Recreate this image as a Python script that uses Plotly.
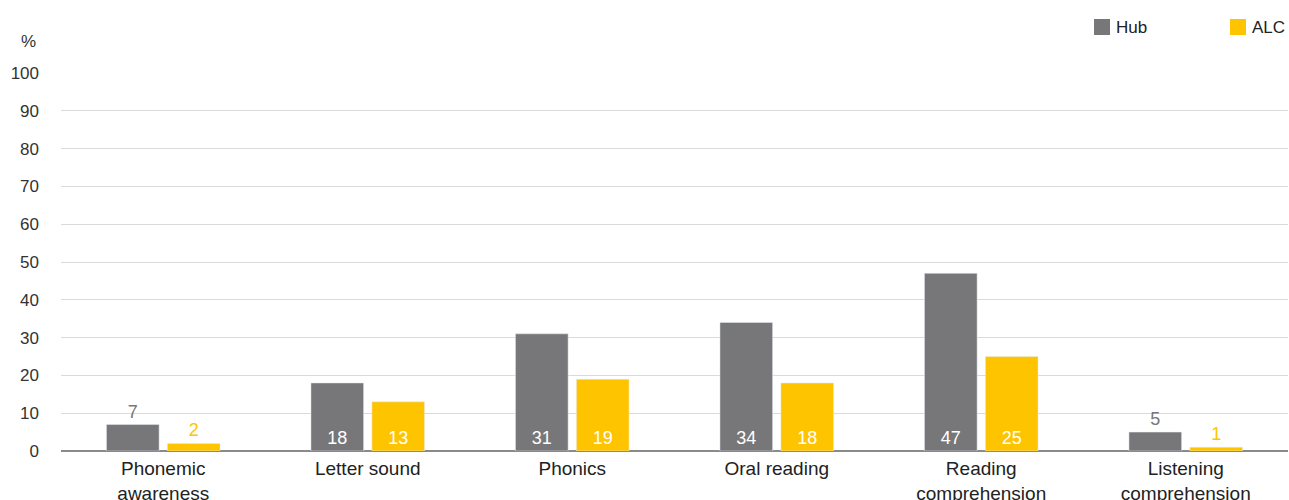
import plotly.graph_objects as go

categories = ["Phonemic<br>awareness", "Letter sound", "Phonics", "Oral reading",
              "Reading<br>comprehension", "Listening<br>comprehension"]
hub_values = [7, 18, 31, 34, 47, 5]
alc_values = [2, 13, 19, 18, 25, 1]
y_ticks = [0, 10, 20, 30, 40, 50, 60, 70, 80, 90, 100]

HUB_COLOR = "#77777a"
ALC_COLOR = "#ffc400"
FONT = "Liberation Sans"

W, H = 1289, 500
M_L, M_R, M_T, M_B = 61, 1, 73, 49
PLOT_W = W - M_L - M_R
PLOT_H = H - M_T - M_B


def px_x(px):
    return (px - M_L) / PLOT_W


def px_y(py):
    return (H - M_B - py) / PLOT_H


def label_style(values, color):
    # small bars get their label above the bar, in the bar colour
    pos = ["outside" if v < 10 else "inside" for v in values]
    cols = [color if v < 10 else "white" for v in values]
    return pos, cols


series = [("Hub", hub_values, HUB_COLOR), ("ALC", alc_values, ALC_COLOR)]

fig = go.Figure()
for name, vals, color in series:
    pos, cols = label_style(vals, color)
    fig.add_trace(go.Bar(
        name=name, x=categories, y=vals, marker_color=color,
        text=[str(v) for v in vals], textposition=pos,
        insidetextanchor="start", constraintext="none",
        textfont=dict(color=cols, size=18, family=FONT),
        cliponaxis=False, showlegend=False,
    ))

# legend in the top-right corner: square swatch + series name
legend_left = [1094, 1230]
for (name, _, color), left in zip(series, legend_left):
    fig.add_shape(type="rect", xref="paper", yref="paper",
                  x0=px_x(left), x1=px_x(left + 16), y0=px_y(35), y1=px_y(19),
                  fillcolor=color, line_width=0)
    fig.add_annotation(text=name, xref="paper", yref="paper",
                       x=px_x(left + 20), y=px_y(27), xanchor="left", yanchor="middle",
                       showarrow=False, font=dict(size=17, color="#222222", family=FONT))

fig.update_layout(
    width=W, height=H,
    margin=dict(l=M_L, r=M_R, t=M_T, b=M_B, autoexpand=False),
    paper_bgcolor="white", plot_bgcolor="white",
    barmode="group", bargap=0.404, bargroupgap=0.136,
    font=dict(family=FONT, size=17, color="#333333"),
    showlegend=False,
)

fig.update_xaxes(showgrid=False, ticks="", automargin=False, ticklabelstandoff=4,
                 tickfont=dict(size=19, color="#222222"), showline=False)
fig.update_yaxes(range=[0, 100], tickvals=y_ticks, showgrid=True, gridcolor="#dcdad6",
                 gridwidth=1, zeroline=True, zerolinecolor="#8a8a8a", zerolinewidth=2,
                 ticks="", ticklabelstandoff=21, automargin=False,
                 tickfont=dict(size=17, color="#333333"))

fig.add_annotation(text="%", xref="paper", yref="paper", x=px_x(38), y=px_y(42),
                   xanchor="right", yanchor="middle", showarrow=False,
                   font=dict(size=17, color="#333333", family=FONT))

fig.write_html("out.html")
